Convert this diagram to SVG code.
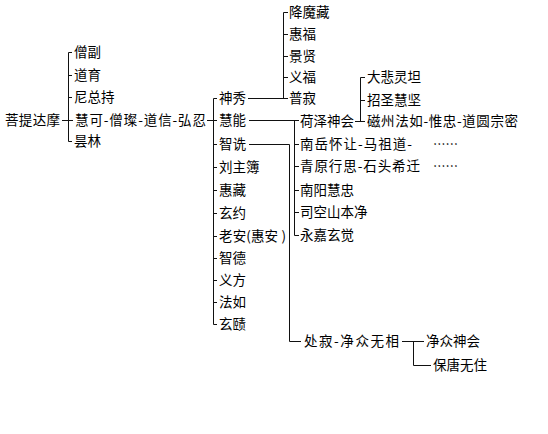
<svg xmlns="http://www.w3.org/2000/svg" width="548" height="434" viewBox="0 0 548 434">
<style>
.t{font-family:"Noto Sans CJK SC","Noto Sans CJK TC",sans-serif;font-size:13.5px;fill:#000}
.c{stroke:#111;stroke-width:1;fill:none}
</style>
<rect width="548" height="434" fill="#fff"/>
<g id="connectors" class="c">
<path d="M62 120.5H73M72 52.5H68.5V141.5H72M68.5 75.5H72M68.5 97.5H72"/>
<path d="M207 120.5H217M217 98.5H213.5V324.5H217M213.5 144.5H217M213.5 167.5H217M213.5 190.5H217M213.5 213.5H217M213.5 236.5H217M213.5 258.5H217M213.5 280.5H217M213.5 302.5H217"/>
<path d="M248 98.5H288M288 12.5H283.5V98.5M283.5 34.5H288M283.5 56.5H288M283.5 77.5H288"/>
<path d="M249 120.5H299M294.5 120.5V235.5H299M294.5 144.5H299M294.5 166.5H299M294.5 190.5H299M294.5 212.5H299"/>
<path d="M249 144.5H289.5V341.5H301"/>
<path d="M355 121.5H365M365 77.5H360.5V121.5M360.5 100.5H365"/>
<path d="M402 341.5H424M413.5 341.5V365.5H431"/>
</g>
<g id="n-putidamo"><text class="t" x="5" y="125" textLength="55" lengthAdjust="spacing">菩提达摩</text></g>
<g id="n-sengfu"><text class="t" x="74" y="57">僧副</text></g>
<g id="n-daoyu"><text class="t" x="74" y="80">道育</text></g>
<g id="n-nizongchi"><text class="t" x="74" y="102">尼总持</text></g>
<g id="n-huike"><text class="t" x="75" y="125" textLength="131" lengthAdjust="spacing">慧可-僧璨-道信-弘忍</text></g>
<g id="n-tanlin"><text class="t" x="74" y="146">昙林</text></g>
<g id="n-shenxiu"><text class="t" x="219" y="103">神秀</text></g>
<g id="n-huineng"><text class="t" x="219" y="125">慧能</text></g>
<g id="n-zhishen"><text class="t" x="219" y="149">智诜</text></g>
<g id="n-liuzhubu"><text class="t" x="219" y="172">刘主簿</text></g>
<g id="n-huizang"><text class="t" x="219" y="195">惠藏</text></g>
<g id="n-xuanyue"><text class="t" x="219" y="218">玄约</text></g>
<g id="n-laoan"><text class="t" x="219" y="241" textLength="67" lengthAdjust="spacing">老安(惠安 )</text></g>
<g id="n-zhide"><text class="t" x="219" y="263">智德</text></g>
<g id="n-yifang"><text class="t" x="219" y="285">义方</text></g>
<g id="n-faru"><text class="t" x="219" y="307">法如</text></g>
<g id="n-xuanze"><text class="t" x="219" y="329">玄赜</text></g>
<g id="n-xiangmozang"><text class="t" x="289" y="17">降魔藏</text></g>
<g id="n-huifu"><text class="t" x="289" y="39">惠福</text></g>
<g id="n-jingxian"><text class="t" x="289" y="61">景贤</text></g>
<g id="n-yifu"><text class="t" x="289" y="82">义福</text></g>
<g id="n-puji"><text class="t" x="289" y="103">普寂</text></g>
<g id="n-heze"><text class="t" x="300" y="126">荷泽神会</text></g>
<g id="n-nanyue"><text class="t" x="300" y="149" textLength="112" lengthAdjust="spacing">南岳怀让-马祖道-</text><text class="t" x="433" y="149" textLength="25" lengthAdjust="spacingAndGlyphs">……</text></g>
<g id="n-qingyuan"><text class="t" x="300" y="171" textLength="120" lengthAdjust="spacing">青原行思-石头希迁</text><text class="t" x="433" y="171" textLength="25" lengthAdjust="spacingAndGlyphs">……</text></g>
<g id="n-nanyang"><text class="t" x="300" y="195">南阳慧忠</text></g>
<g id="n-sikong"><text class="t" x="300" y="217">司空山本净</text></g>
<g id="n-yongjia"><text class="t" x="300" y="240">永嘉玄觉</text></g>
<g id="n-dabei"><text class="t" x="367" y="82">大悲灵坦</text></g>
<g id="n-zhaosheng"><text class="t" x="367" y="105">招圣慧坚</text></g>
<g id="n-cizhou"><text class="t" x="367" y="126" textLength="151" lengthAdjust="spacing">磁州法如-惟忠-道圆宗密</text></g>
<g id="n-chuji"><text class="t" x="304" y="346" textLength="95" lengthAdjust="spacing">处寂-净众无相</text></g>
<g id="n-jingzhong"><text class="t" x="426" y="346">净众神会</text></g>
<g id="n-baotang"><text class="t" x="433" y="370">保唐无住</text></g>
</svg>
